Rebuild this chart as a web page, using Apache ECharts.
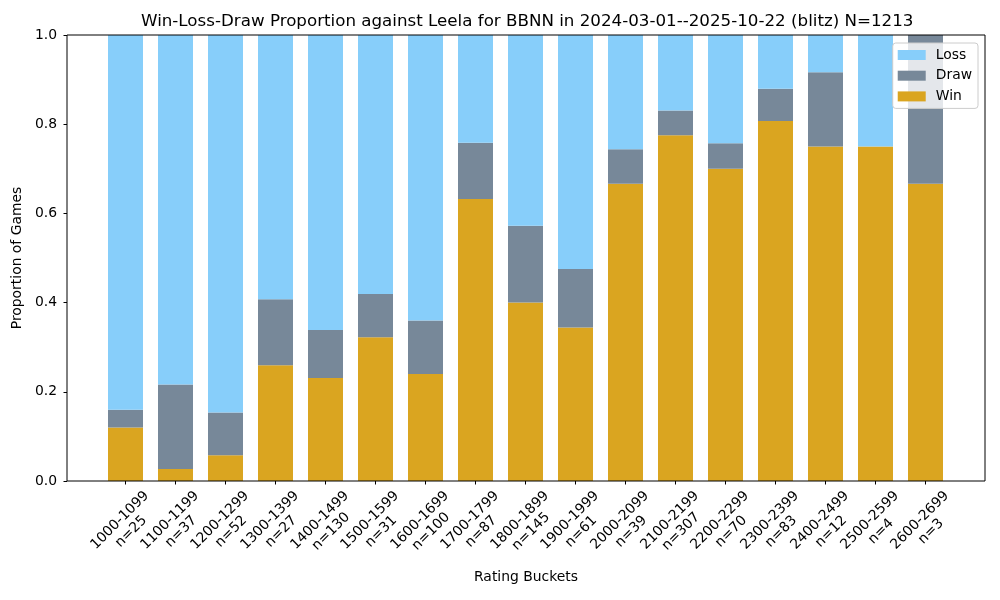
<!DOCTYPE html>
<html><head><meta charset="utf-8">
<script src="https://cdn.jsdelivr.net/npm/echarts@6/dist/echarts.min.js"></script>
<style>html,body{margin:0;padding:0;background:#fff}#c{width:1000px;height:600px}</style>
</head><body><div id="c"></div>
<script>
const buckets = ['1000-1099','1100-1199','1200-1299','1300-1399','1400-1499','1500-1599','1600-1699','1700-1799','1800-1899','1900-1999','2000-2099','2100-2199','2200-2299','2300-2399','2400-2499','2500-2599','2600-2699'];
const nGames = [25,37,52,27,130,31,100,87,145,61,39,307,70,83,12,4,3];
const wins   = [3,1,3,7,30,10,24,55,58,21,26,238,49,67,9,3,2];
const draws  = [1,7,5,4,14,3,12,11,25,8,3,17,4,6,2,0,1];
const losses = [21,29,44,16,86,18,64,21,62,32,10,52,17,10,1,1,0];
const titleText = 'Win-Loss-Draw Proportion against Leela for BBNN in 2024-03-01--2025-10-22 (blitz) N=1213';

const labels = buckets.map((b, i) => b + '\nn=' + nGames[i]);
const prop = arr => arr.map((v, i) => v / nGames[i]);
const F = 'DejaVu Sans';

const chart = echarts.init(document.getElementById('c'), null, {renderer: 'canvas'});
chart.setOption({
  animation: false,
  backgroundColor: '#fff',
  textStyle: {fontFamily: F, color: '#000'},
  title: {
    text: titleText, left: 141, top: 13,
    padding: 0,
    textStyle: {fontFamily: F, fontSize: 16.7, fontWeight: 'normal', color: '#000'}
  },
  legend: {
    data: ['Loss', 'Draw', 'Win'],
    orient: 'vertical', right: 22, top: 43,
    padding: [5, 6, 5, 5],
    itemWidth: 28, itemHeight: 10, itemGap: 6.7,
    icon: 'rect',
    backgroundColor: 'rgba(255,255,255,0.8)',
    borderColor: '#cccccc', borderWidth: 1, borderRadius: 3,
    textStyle: {fontFamily: F, fontSize: 13.9, color: '#000', lineHeight: 14, padding: [0, 0, 0, 5]}
  },
  grid: [
    {left: 100.5, right: 49.5, top: 35, bottom: 119},
    {left: 67, right: 15, top: 35, bottom: 119, show: true, borderColor: '#000', borderWidth: 1, backgroundColor: 'transparent', z: 10}
  ],
  xAxis: [
    {
      type: 'category', gridIndex: 0, data: labels,
      axisLine: {show: false},
      axisTick: {show: true, alignWithLabel: true, length: 3.5, lineStyle: {color: '#000'}},
      axisLabel: {
        interval: 0, rotate: 45, align: 'center', verticalAlign: 'middle', margin: 45,
        fontFamily: F, fontSize: 13.9, color: '#000', lineHeight: 16
      }
    },
    {
      type: 'value', gridIndex: 1, min: 0, max: 1,
      name: 'Rating Buckets', nameLocation: 'middle', nameGap: 89,
      nameTextStyle: {fontFamily: F, fontSize: 13.9, color: '#000'},
      axisLine: {show: false}, axisTick: {show: false}, axisLabel: {show: false}, splitLine: {show: false}
    }
  ],
  yAxis: [
    {type: 'value', gridIndex: 0, min: 0, max: 1, show: false},
    {
      type: 'value', gridIndex: 1, min: 0, max: 1, interval: 0.2,
      name: 'Proportion of Games', nameLocation: 'middle', nameGap: 38,
      nameTextStyle: {fontFamily: F, fontSize: 13.9, color: '#000'},
      axisLine: {show: false},
      axisTick: {show: true, length: 3.5, lineStyle: {color: '#000'}},
      axisLabel: {fontFamily: F, fontSize: 13.9, color: '#000', margin: 10, formatter: v => v.toFixed(1)},
      splitLine: {show: false}
    }
  ],
  series: [
    {name: 'Win', type: 'bar', stack: 'wld', xAxisIndex: 0, yAxisIndex: 0, barWidth: '70%', data: prop(wins), itemStyle: {color: '#DAA520'}},
    {name: 'Draw', type: 'bar', stack: 'wld', xAxisIndex: 0, yAxisIndex: 0, barWidth: '70%', data: prop(draws), itemStyle: {color: '#778899'}},
    {name: 'Loss', type: 'bar', stack: 'wld', xAxisIndex: 0, yAxisIndex: 0, barWidth: '70%', data: prop(losses), itemStyle: {color: '#87CEFA'}}
  ]
});
</script></body></html>
